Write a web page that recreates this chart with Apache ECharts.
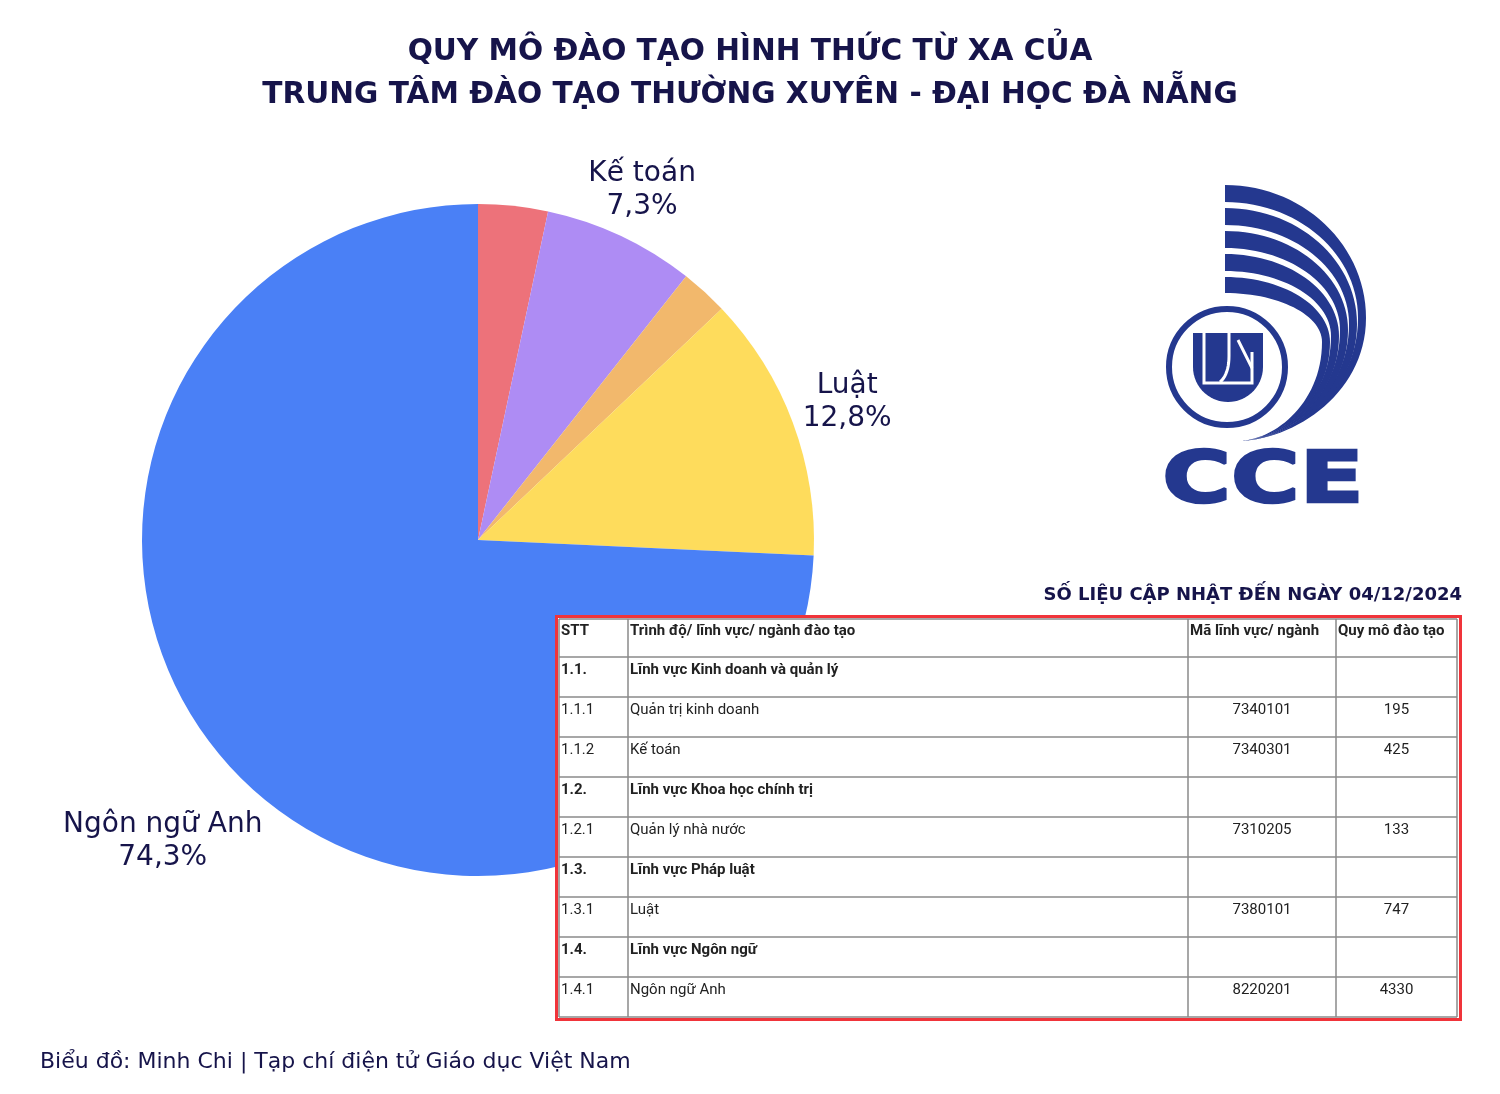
<!DOCTYPE html>
<html>
<head>
<meta charset="utf-8">
<script src="https://cdn.jsdelivr.net/npm/echarts@6/dist/echarts.min.js"></script>
<style>
html,body{margin:0;padding:0;background:#fff;}
#chart{width:1500px;height:1094px;}
</style>
</head>
<body>
<div id="chart"></div>
<script>
// ---- Data ----
var categories = ['Quản trị kinh doanh', 'Kế toán', 'Quản lý nhà nước', 'Luật', 'Ngôn ngữ Anh'];
var values = [195, 425, 133, 747, 4330];
var colors = ['#ED727A', '#AE8CF4', '#F2B86C', '#FEDC5C', '#4A80F6'];
var showLabel = [false, true, false, true, true];
var labelLen = [0, 50, 0, 58, 100];

var tableStt = ['STT', '1.1.', '1.1.1', '1.1.2', '1.2.', '1.2.1', '1.3.', '1.3.1', '1.4.', '1.4.1'];
var tableName = ['Trình độ/ lĩnh vực/ ngành đào tạo', 'Lĩnh vực Kinh doanh và quản lý', 'Quản trị kinh doanh', 'Kế toán',
  'Lĩnh vực Khoa học chính trị', 'Quản lý nhà nước', 'Lĩnh vực Pháp luật', 'Luật', 'Lĩnh vực Ngôn ngữ', 'Ngôn ngữ Anh'];
var tableCode = ['Mã lĩnh vực/ ngành', '', '7340101', '7340301', '', '7310205', '', '7380101', '', '8220201'];
var tableValue = ['Quy mô đào tạo', '', '195', '425', '', '133', '', '747', '', '4330'];
var tableBold = [true, true, false, false, true, false, true, false, true, false];

var titleLines = ['QUY MÔ ĐÀO TẠO HÌNH THỨC TỪ XA CỦA', 'TRUNG TÂM ĐÀO TẠO THƯỜNG XUYÊN - ĐẠI HỌC ĐÀ NẴNG'];
var subText = 'SỐ LIỆU CẬP NHẬT ĐẾN NGÀY 04/12/2024';
var footText = 'Biểu đồ: Minh Chi | Tạp chí điện tử Giáo dục Việt Nam';

// ---- Layout / style ----
var NAVY = '#16144A';
var FONT = '"DejaVu Sans", sans-serif';
var LOGO = '#24388F';

function cubicPts(p0, p1, p2, p3, n) {
  var out = [];
  for (var i = 0; i <= n; i++) {
    var t = i / n, u = 1 - t;
    out.push([
      u * u * u * p0[0] + 3 * u * u * t * p1[0] + 3 * u * t * t * p2[0] + t * t * t * p3[0],
      u * u * u * p0[1] + 3 * u * u * t * p1[1] + 3 * u * t * t * p2[1] + t * t * t * p3[1]
    ]);
  }
  return out;
}

var chart = echarts.init(document.getElementById('chart'), null, {renderer: 'canvas'});

var graphics = [];
// title
for (var t = 0; t < titleLines.length; t++) {
  graphics.push({type: 'text', z: 30, style: {text: titleLines[t], x: 750, y: 52 + t * 43, align: 'center', verticalAlign: 'middle',
    fill: NAVY, fontFamily: FONT, fontWeight: 'bold', fontSize: 29.6}});
}
// table
var colX = [559, 628, 1188, 1336, 1457];
var rowY = [619];
for (var i = 0; i < tableStt.length; i++) rowY.push(i === 0 ? 657 : rowY[rowY.length - 1] + 40);
graphics.push({type: 'rect', z: 50, shape: {x: 556.5, y: 616.5, width: 904, height: 403},
  style: {fill: '#fff', stroke: '#F0343A', lineWidth: 3}});
for (var r = 0; r < rowY.length; r++) {
  graphics.push({type: 'line', z: 51, shape: {x1: colX[0], y1: rowY[r], x2: colX[4], y2: rowY[r]},
    style: {stroke: '#8a8a8a', lineWidth: 1.5}});
}
for (var c = 0; c < colX.length; c++) {
  graphics.push({type: 'line', z: 51, shape: {x1: colX[c], y1: rowY[0], x2: colX[c], y2: rowY[rowY.length - 1]},
    style: {stroke: '#8a8a8a', lineWidth: 1.5}});
}
for (var r = 0; r < tableStt.length; r++) {
  var ty = rowY[r] + (r === 0 ? 12 : 13);
  var fw = tableBold[r] ? 'bold' : 'normal';
  var base = {fill: '#222', fontFamily: 'Roboto', fontSize: 15, fontWeight: fw, verticalAlign: 'middle'};
  graphics.push({type: 'text', z: 52, style: Object.assign({}, base, {x: 561, y: ty, text: tableStt[r], align: 'left'})});
  graphics.push({type: 'text', z: 52, style: Object.assign({}, base, {x: 630, y: ty, text: tableName[r], align: 'left'})});
  if (r === 0) {
    graphics.push({type: 'text', z: 52, style: Object.assign({}, base, {x: 1190, y: ty, text: tableCode[r], align: 'left'})});
    graphics.push({type: 'text', z: 52, style: Object.assign({}, base, {x: 1338, y: ty, text: tableValue[r], align: 'left'})});
  } else {
    graphics.push({type: 'text', z: 52, style: Object.assign({}, base, {x: (colX[2] + colX[3]) / 2, y: ty, text: tableCode[r], align: 'center'})});
    graphics.push({type: 'text', z: 52, style: Object.assign({}, base, {x: (colX[3] + colX[4]) / 2, y: ty, text: tableValue[r], align: 'center'})});
  }
}

// logo arcs
var bandTopO = [185, 208, 231, 254, 277];
var bandTopI = [202, 225, 248, 271, 293];
var bandRO = [1366, 1357, 1348, 1339, 1330];
var bandRI = [1358, 1349, 1340, 1331, 1322];
var bandYR = [318, 324, 330, 336, 342];
var PX = 1240, PY = 441, LX = 1225, K = 0.552;
for (var b = 0; b < 5; b++) {
  var yo = bandTopO[b], yi = bandTopI[b], xo = bandRO[b], xi = bandRI[b], yr = bandYR[b];
  var pts = []
    .concat(cubicPts([LX, yo], [LX + K * (xo - LX), yo], [xo, yr - K * (yr - yo)], [xo, yr], 30))
    .concat(cubicPts([xo, yr], [xo, yr + 0.6 * (PY - yr)], [PX + 0.45 * (xo - PX), PY - 2], [PX, PY], 30))
    .concat(cubicPts([PX, PY], [PX + 0.45 * (xi - PX), PY - 2], [xi, yr + 0.6 * (PY - yr)], [xi, yr], 30))
    .concat(cubicPts([xi, yr], [xi, yr - K * (yr - yi)], [LX + K * (xi - LX), yi], [LX, yi], 30));
  graphics.push({type: 'polygon', z: 20, shape: {points: pts}, style: {fill: LOGO}});
}
graphics.push({type: 'circle', z: 21, shape: {cx: 1227, cy: 367, r: 60}, style: {fill: '#fff', stroke: '#fff', lineWidth: 8}});
graphics.push({type: 'circle', z: 22, shape: {cx: 1227, cy: 367, r: 58}, style: {fill: '#fff', stroke: LOGO, lineWidth: 6}});
var uPts = [[1193, 333], [1263, 333], [1263, 367]];
for (var a = 0; a <= 30; a++) {
  var ang = Math.PI * a / 30;
  uPts.push([1228 + 35 * Math.cos(ang), 367 + 35 * Math.sin(ang)]);
}
graphics.push({type: 'polygon', z: 23, shape: {points: uPts}, style: {fill: LOGO}});
graphics.push({type: 'polyline', z: 24, shape: {points: [[1204, 333], [1204, 383], [1252, 383], [1252, 352]]}, style: {stroke: '#fff', lineWidth: 3}});
graphics.push({type: 'polyline', z: 24, shape: {points: [[1229, 333], [1229, 356]].concat(cubicPts([1229, 356], [1229, 368], [1226, 377], [1220, 382], 10))}, style: {stroke: '#fff', lineWidth: 3}});
graphics.push({type: 'line', z: 24, shape: {x1: 1238, y1: 340, x2: 1252, y2: 368}, style: {stroke: '#fff', lineWidth: 3}});
graphics.push({type: 'text', z: 25, x: 1263, y: 483, scaleX: 1.3,
  style: {text: 'CCE', x: 0, y: 0, align: 'center', verticalAlign: 'middle', fill: LOGO, stroke: LOGO, lineWidth: 2.5,
    fontFamily: '"DejaVu Sans"', fontWeight: 'bold', fontSize: 72}});

var option = {
  backgroundColor: '#fff',
  animation: false,
  title: [
    {text: subText, right: 33, top: 581,
      textStyle: {color: NAVY, fontFamily: FONT, fontWeight: 'bold', fontSize: 18}},
    {text: footText, left: 35, top: 1046,
      textStyle: {color: NAVY, fontFamily: FONT, fontWeight: 'normal', fontSize: 22}}
  ],
  series: [{
    type: 'pie',
    center: [478, 540],
    radius: 336,
    startAngle: 90,
    clockwise: true,
    avoidLabelOverlap: false,
    z: 2,
    itemStyle: {borderWidth: 0},
    label: {
      show: true,
      position: 'outside',
      color: NAVY,
      fontFamily: FONT,
      fontSize: 28,
      lineHeight: 33,
      formatter: function (p) { return p.name + '\n' + p.percent.toFixed(1).replace('.', ',') + '%'; }
    },
    labelLine: {show: false},
    labelLayout: function (p) {
      var pts = p.labelLinePoints;
      if (!pts) return {};
      return {x: pts[1][0], y: pts[1][1], align: 'center', verticalAlign: 'middle'};
    },
    data: categories.map(function (n, i) {
      return {
        name: n, value: values[i],
        itemStyle: {color: colors[i]},
        label: {show: showLabel[i]},
        labelLine: {show: false, length: labelLen[i] || 10, length2: 0}
      };
    })
  }],
  graphic: {elements: graphics}
};
chart.setOption(option);
</script>
</body>
</html>
